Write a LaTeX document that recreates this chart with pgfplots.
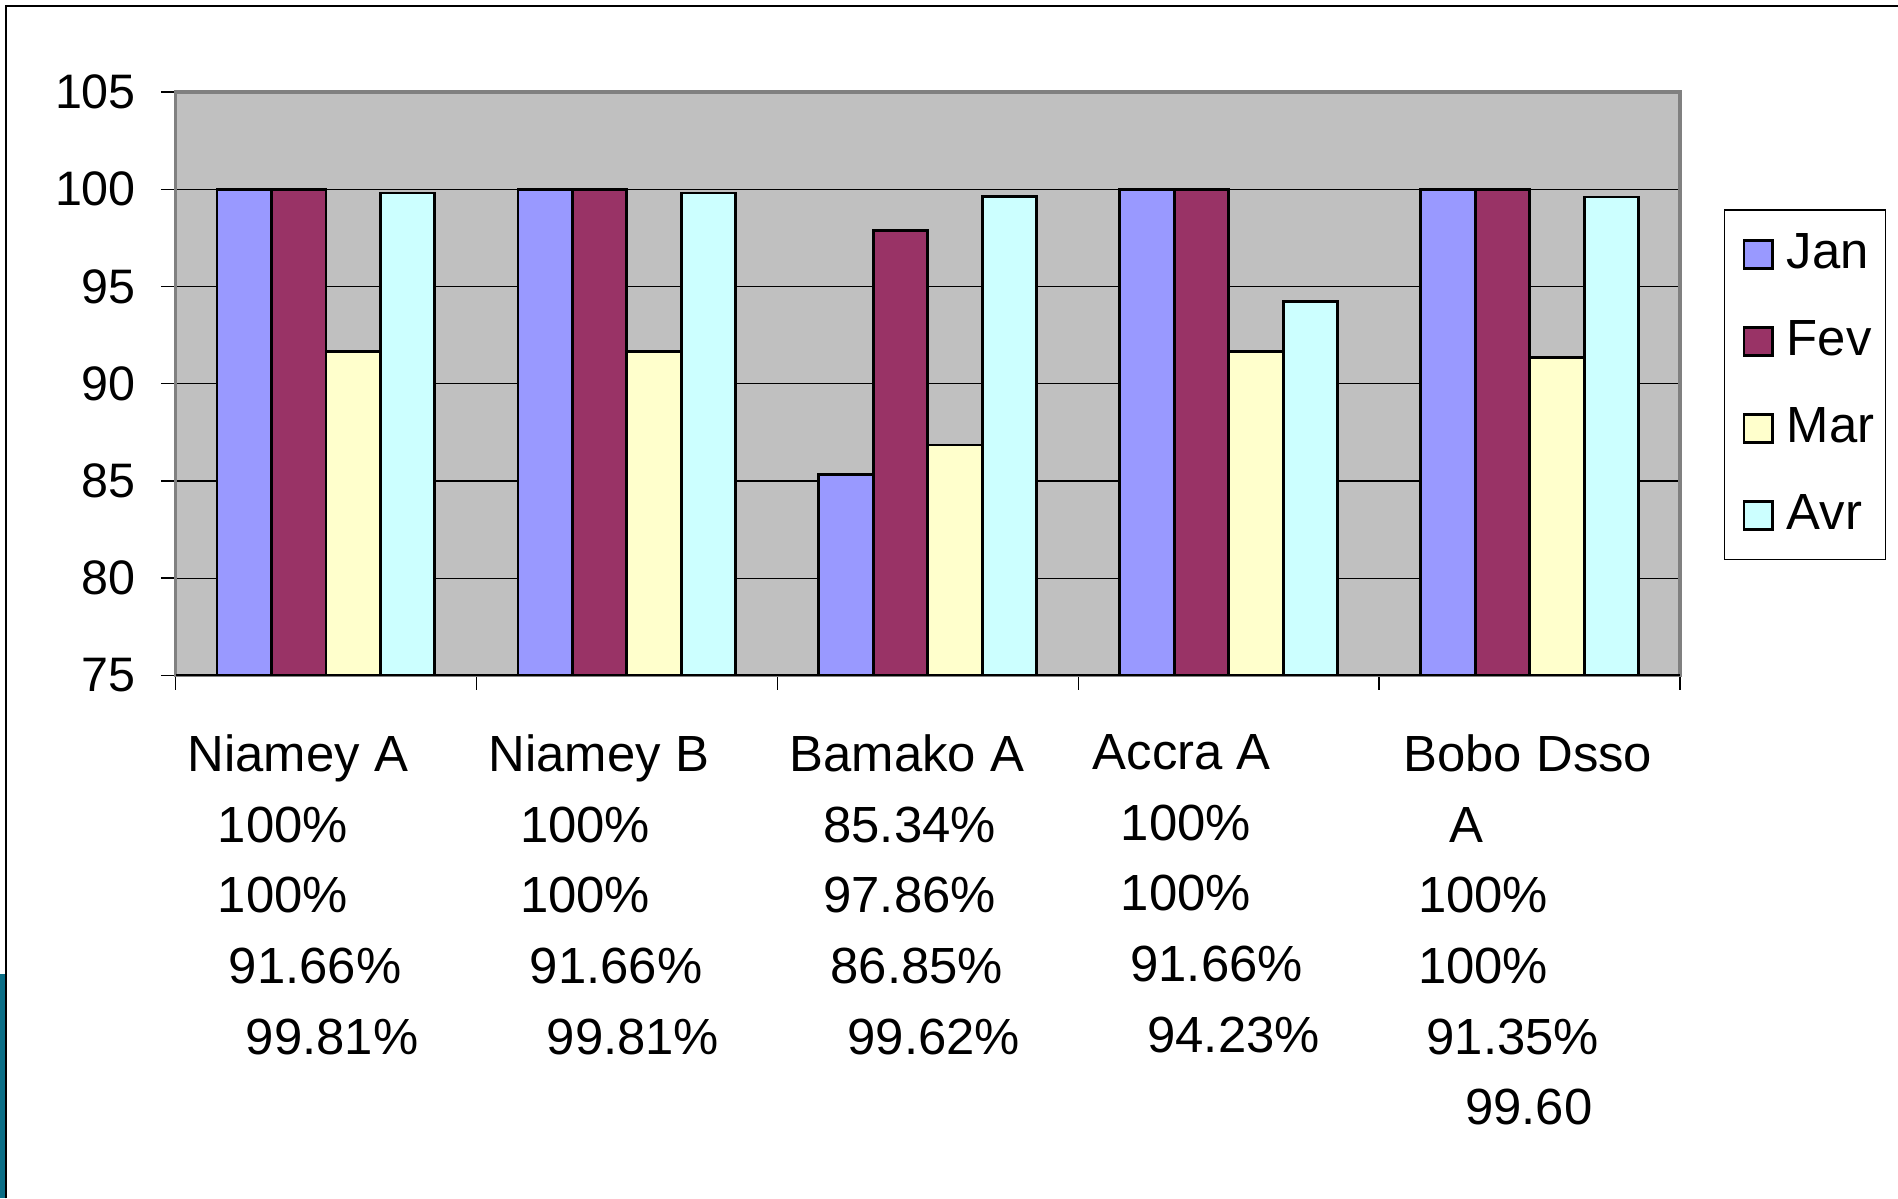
\documentclass[border=0pt]{standalone}
\usepackage{fontspec}
\setmainfont{Liberation Sans}
\usepackage{pgfplots}
\pgfplotsset{compat=1.18}
\definecolor{janc}{HTML}{9999FF}
\definecolor{fevc}{HTML}{993366}
\definecolor{marc}{HTML}{FFFFCC}
\definecolor{avrc}{HTML}{CCFFFF}
\definecolor{bgc}{HTML}{C0C0C0}
\definecolor{axgray}{HTML}{808080}
\definecolor{tealc}{HTML}{0A6E86}
\newcommand{\labA}{Niamey A\\\hspace*{6.25pt}100\%\\\hspace*{6.25pt}100\%\\\hspace*{8.5pt}91.66\%\\\hspace*{12pt}99.81\%}
\newcommand{\labB}{Niamey B\\\hspace*{6.5pt}100\%\\\hspace*{6.5pt}100\%\\\hspace*{8.5pt}91.66\%\\\hspace*{12pt}99.81\%}
\newcommand{\labC}{Bamako A\\\hspace*{7pt}85.34\%\\\hspace*{7pt}97.86\%\\\hspace*{8.5pt}86.85\%\\\hspace*{12pt}99.62\%}
\newcommand{\labD}{\hspace*{0.5pt}Accra A\\\hspace*{6.25pt}100\%\\\hspace*{6.25pt}100\%\\\hspace*{8.25pt}91.66\%\\\hspace*{11.75pt}94.23\%}
\newcommand{\labE}{\hspace*{2.5pt}Bobo Dsso\\\hspace*{12pt}A\\\hspace*{5.5pt}100\%\\\hspace*{5.5pt}100\%\\\hspace*{7.25pt}91.35\%\\\hspace*{15.25pt}99.60}
\begin{document}
\begin{tikzpicture}
\useasboundingbox (-36.25pt,-108pt) rectangle (355.75pt,139.5pt);
\fill[white] (-36.25pt,-108pt) rectangle (355.75pt,139.5pt);
\fill[tealc] (-36.25pt,-108pt) rectangle (-35.1pt,-61.75pt);
\draw[black, line width=0.4pt] (-35pt,-108pt) -- (-35pt,138.25pt) -- (355.75pt,138.25pt);
\begin{axis}[
  at={(0,0)}, anchor=south west,
  scale only axis, width=310.75pt, height=120.5pt,
  ybar=0pt, bar width=0.181,
  xmin=-0.5, xmax=4.5, ymin=75, ymax=105,
  ytick={75,80,...,105},
  ymajorgrids, grid style={black, line width=0.25pt},
  axis background/.style={fill=bgc},
  axis line style={draw=axgray, line width=0.7pt},
  tick pos=left,
  xtick={-0.5,0.5,1.5,2.5,3.5,4.5}, xticklabels={},
  tick align=outside, major tick length=3pt,
  tick style={black, line width=0.3pt},
  extra x ticks={0,1,2,3,4},
  extra x tick labels={{\labA},{\labB},{\labC},{\labD},{\labE}},
  extra x tick style={major tick length=0pt, grid=none},
  xticklabel style={align=left, anchor=north west, inner sep=0pt, xshift=-28.75pt, yshift=-12pt, font=\fontsize{10.5}{14.6}\selectfont},
  yticklabel style={anchor=east, inner sep=0pt, xshift=-5pt, font=\fontsize{10}{12}\selectfont},
  /pgf/number format/assume math mode=true,
  legend style={at={(1,1)}, anchor=north west, xshift=9pt, yshift=-24.25pt,
    draw=black, line width=0.3pt, fill=white,
    font=\fontsize{10.5}{12}\selectfont, row sep=5.25pt,
    inner xsep=1.5pt, inner ysep=2.75pt,
    nodes={inner xsep=0.75pt},
    /tikz/every odd column/.append style={column sep=2pt}},
  legend cell align=left,
  legend image code/.code={\path (0pt,0pt); \draw[#1, draw=black, line width=0.6pt] (2.25pt,-2.9pt) rectangle (8.05pt,2.9pt);},
  every axis plot/.append style={draw=black, line width=0.6pt},
]
\addplot[fill=janc] coordinates {(0,100) (1,100) (2,85.34) (3,100) (4,100)};
\addplot[fill=fevc] coordinates {(0,100) (1,100) (2,97.86) (3,100) (4,100)};
\addplot[fill=marc] coordinates {(0,91.66) (1,91.66) (2,86.85) (3,91.66) (4,91.35)};
\addplot[fill=avrc] coordinates {(0,99.81) (1,99.81) (2,99.62) (3,94.23) (4,99.60)};
\legend{Jan,Fev,Mar,Avr}
\draw[black, line width=0.5pt] (rel axis cs:0,0) -- (rel axis cs:1,0);
\end{axis}
\end{tikzpicture}
\end{document}
